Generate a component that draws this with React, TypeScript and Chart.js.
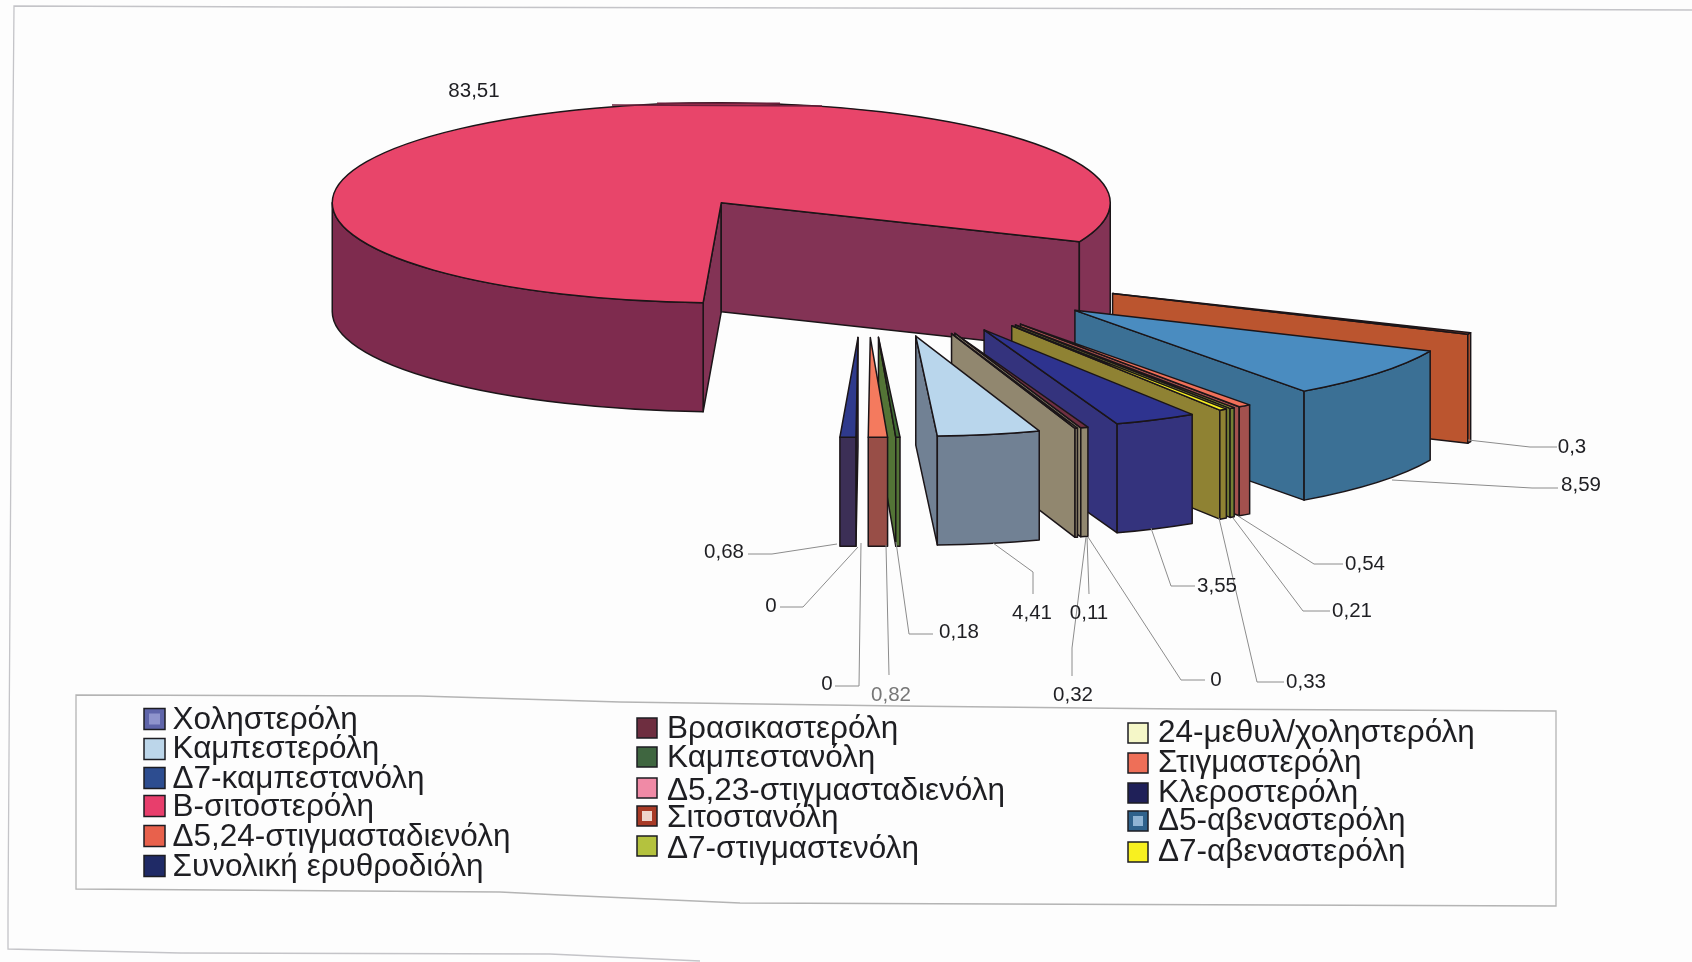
import React, { useEffect, useRef } from "react";
import { Chart, registerables } from "chart.js";

Chart.register(...registerables);

const names = [
  "Χοληστερόλη", "Βρασικαστερόλη", "24-μεθυλ/χοληστερόλη", "Καμπεστερόλη", "Καμπεστανόλη", "Στιγμαστερόλη",
  "Δ7-καμπεστανόλη", "Δ5,23-στιγμασταδιενόλη", "Κλεροστερόλη", "Β-σιτοστερόλη", "Σιτοστανόλη", "Δ5-αβεναστερόλη",
  "Δ5,24-στιγμασταδιενόλη", "Δ7-στιγμαστενόλη", "Δ7-αβεναστερόλη", "Συνολική ερυθροδιόλη",
];
const values = [0, 0.32, 0.11, 4.41, 0.18, 0.82, 0, 0, 0.68, 83.51, 0.3, 8.59, 0.54, 0.21, 0.33, 3.55];
const topColors = [
  "#5a60a8", "#702f42", "#f7f9cf", "#b9d6ec", "#3f6b33", "#f47a5e", "#2f4f92", "#f08aa8",
  "#2f3a8c", "#e8456a", "#b5482a", "#4a8cc0", "#f0705a", "#b8c23a", "#f5ee20", "#2e338f",
];
const wallColors = [
  "#44478a", "#8c8269", "#8c8269", "#6b7c90", "#4c6e2e", "#94473f", "#243c70", "#a85a72",
  "#3c2f56", "#7e2b4e", "#b84e26", "#336a91", "#9f4a47", "#6e7a2c", "#8a7d2a", "#2c2b78",
];
const legendColors = [
  "#5f65aa", "#6e2e40", "#f5f7c8", "#bcd6ea", "#3f6640", "#ee6f58", "#2d4d90", "#f08aa6",
  "#1f2058", "#e83e6c", "#a83a26", "#2f628c", "#e8614c", "#b4c23e", "#f8f020", "#1f2a66",
];
const legendSpecks: Record<number, string> = { 0: "#8f94cc", 10: "#eed5cc", 11: "#8fb4d4" };
const legendColumns = [
  { textX: 172.5, swatchX: 144, swatchSize: 21, members: [0, 3, 6, 9, 12, 15], baselines: [729, 758, 788, 816, 846, 876], centers: [719, 749, 778, 806, 836, 866] },
  { textX: 667, swatchX: 637, swatchSize: 20, members: [1, 4, 7, 10, 13], baselines: [738, 767, 800, 827, 858], centers: [728, 757, 788, 816, 846] },
  { textX: 1158, swatchX: 1128, swatchSize: 20, members: [2, 5, 8, 11, 14], baselines: [742, 772, 802, 830, 861], centers: [733, 763, 793, 821, 852] },
];
// label centre and leader polyline for each slice
const labelLayout = [
  { at: [1216, 680], leader: [[1205, 680], [1181, 680], [1088, 537]] },
  { at: [1073, 695], leader: [[1072, 676], [1072, 648], [1086, 537]] },
  { at: [1089, 613], leader: [[1089, 594], [1087, 537]] },
  { at: [1032, 613], leader: [[1033, 594], [1033, 572], [993, 543]] },
  { at: [959, 632], leader: [[933, 634], [909, 634], [896, 542]] },
  { at: [891, 695], leader: [[889, 675], [886, 545]], faint: true },
  { at: [827, 684], leader: [[835, 686], [859, 686], [861, 543]] },
  { at: [771, 606], leader: [[780, 607], [803, 607], [858, 547]] },
  { at: [724, 552], leader: [[748, 554], [772, 554], [837, 544]] },
  { at: [474, 91], leader: [] },
  { at: [1572, 447], leader: [[1557, 447], [1530, 447], [1468, 440]] },
  { at: [1581, 485], leader: [[1558, 488], [1532, 488], [1392, 480]] },
  { at: [1365, 564], leader: [[1343, 564], [1314, 564], [1238, 516]] },
  { at: [1352, 611], leader: [[1330, 611], [1303, 611], [1233, 518]] },
  { at: [1306, 682], leader: [[1284, 682], [1257, 682], [1219, 518]] },
  { at: [1217, 586], leader: [[1195, 586], [1171, 586], [1151, 528]] },
];
const legendFrame = [[76, 695], [420, 696], [620, 702], [900, 706], [1180, 709], [1556, 711], [1556, 906], [1000, 904], [740, 903], [560, 895], [500, 892], [76, 889]];
const pageEdge = [[1692, 10], [1392, 9], [300, 7], [14, 6], [13, 120], [8, 913], [8, 949], [180, 953], [550, 954], [700, 961]];

const TILT = 0.257;
const EXPLODE_TILT = 0.27;
const DEPTH = 109;
const INK = "#1b1518";

function shade(hex: string, amt: number) {
  const n = parseInt(hex.slice(1), 16);
  const f = (c: number) => Math.min(255, Math.round(c + (255 - c) * amt));
  return `rgb(${f((n >> 16) & 255)},${f((n >> 8) & 255)},${f(n & 255)})`;
}

function poly(ctx: CanvasRenderingContext2D, pts: number[][], close = false) {
  ctx.beginPath();
  pts.forEach(([px, py], j) => (j ? ctx.lineTo(px, py) : ctx.moveTo(px, py)));
  if (close) ctx.closePath();
  ctx.stroke();
}

const pie3d = {
  id: "pie3d",
  beforeDatasetDraw(chart: any) {
    const ctx: CanvasRenderingContext2D = chart.ctx;
    const arcs: any[] = chart.getDatasetMeta(0).data;
    const big = values.indexOf(Math.max(...values));
    // paint from the big slice, then clockwise so nearer wedges cover farther ones
    const order = arcs.map((_, i) => (big + i) % arcs.length);
    ctx.save();
    ctx.lineJoin = "round";
    ctx.strokeStyle = INK;
    ctx.lineWidth = 1.5;
    for (const i of order) {
      if (values[i] === 0) continue;
      const el = arcs[i];
      const { x, y, startAngle: a, endAngle: b, outerRadius: R } = el;
      const mid = (a + b) / 2;
      const d = el.options.offset;
      const ox = x + Math.cos(mid) * d;
      const oy = y + Math.sin(mid) * d * EXPLODE_TILT;
      const pt = (t: number) => [ox + Math.cos(t) * R, oy + Math.sin(t) * R * TILT];
      const radial = (t: number) => {
        const [px, py] = pt(t);
        ctx.beginPath();
        ctx.moveTo(ox, oy);
        ctx.lineTo(px, py);
        ctx.lineTo(px, py + DEPTH);
        ctx.lineTo(ox, oy + DEPTH);
        ctx.closePath();
        ctx.fillStyle = shade(wallColors[i], 0.04);
        ctx.fill();
        ctx.stroke();
      };
      if (-Math.cos(a) > 0) radial(a);
      if (Math.cos(b) > 0) radial(b);
      for (let k = -1; k <= 2; k++) {
        const lo = Math.max(a, 2 * Math.PI * k);
        const hi = Math.min(b, Math.PI + 2 * Math.PI * k);
        if (lo >= hi) continue;
        ctx.beginPath();
        ctx.ellipse(ox, oy, R, R * TILT, 0, lo, hi);
        ctx.ellipse(ox, oy + DEPTH, R, R * TILT, 0, hi, lo, true);
        ctx.closePath();
        ctx.fillStyle = Math.cos((lo + hi) / 2) > 0 ? shade(wallColors[i], 0.04) : wallColors[i];
        ctx.fill();
        ctx.stroke();
      }
      ctx.beginPath();
      ctx.moveTo(ox, oy);
      ctx.ellipse(ox, oy, R, R * TILT, 0, a, b);
      ctx.closePath();
      ctx.fillStyle = topColors[i];
      ctx.fill();
      ctx.stroke();
    }
    ctx.restore();
    return false;
  },
  afterDraw(chart: any) {
    const ctx: CanvasRenderingContext2D = chart.ctx;
    ctx.save();
    // scan residue: the dark rim along the back of the pie and the page edge
    ctx.strokeStyle = "#6a1f3a";
    ctx.lineWidth = 1.5;
    poly(ctx, [[612, 105], [822, 106]]);
    ctx.lineWidth = 2;
    poly(ctx, [[657, 103.5], [780, 103.5]]);
    ctx.strokeStyle = "#c4c4c8";
    ctx.lineWidth = 1.3;
    poly(ctx, pageEdge);
    // value labels and leaders
    ctx.lineWidth = 1;
    ctx.strokeStyle = "#8c8c8c";
    ctx.textAlign = "center";
    ctx.textBaseline = "middle";
    ctx.font = '20.5px "Liberation Sans", Arial, sans-serif';
    values.forEach((v, i) => {
      const { at, leader, faint } = labelLayout[i] as any;
      if (leader.length) poly(ctx, leader);
      ctx.fillStyle = faint ? "#777" : "#1f1f23";
      ctx.fillText(String(v).replace(".", ","), at[0], at[1]);
    });
    // legend frame, skewed as on the scanned page
    ctx.strokeStyle = "#b4b4b4";
    ctx.lineWidth = 1.3;
    poly(ctx, legendFrame, true);
    // legend
    ctx.textAlign = "left";
    ctx.textBaseline = "alphabetic";
    ctx.font = '31.5px "Liberation Sans", Arial, sans-serif';
    legendColumns.forEach((c) => {
      c.members.forEach((m, r) => {
        const s = c.swatchSize;
        const top = c.centers[r] - s / 2;
        ctx.fillStyle = legendColors[m];
        ctx.fillRect(c.swatchX, top, s, s);
        if (legendSpecks[m]) {
          ctx.fillStyle = legendSpecks[m];
          ctx.fillRect(c.swatchX + 5, top + 5, s - 10, s - 10);
        }
        ctx.strokeStyle = "#1c1c22";
        ctx.lineWidth = 1.5;
        ctx.strokeRect(c.swatchX, top, s, s);
        ctx.fillStyle = "#1e1e22";
        ctx.fillText(names[m], c.textX, c.baselines[r]);
      });
    });
    ctx.restore();
  },
};

export default function App() {
  const ref = useRef<HTMLCanvasElement>(null);
  useEffect(() => {
    const chart = new Chart(ref.current!, {
      type: "pie",
      data: {
        labels: names,
        datasets: [{ data: values, backgroundColor: topColors, borderWidth: 0, offset: 270, radius: 389 }],
      },
      options: {
        animation: false,
        responsive: false,
        rotation: 160,
        layout: { padding: { left: 38, right: 0, top: 0, bottom: 433 } },
        plugins: { legend: { display: false }, tooltip: { enabled: false } },
      },
      plugins: [pie3d],
    } as any);
    return () => chart.destroy();
  }, []);
  return (
    <canvas
      ref={ref}
      width={1692}
      height={962}
      style={{ position: "fixed", left: 0, top: 0, width: 1692, height: 962, background: "#fdfdfd", filter: "blur(0.45px)" }}
    />
  );
}
